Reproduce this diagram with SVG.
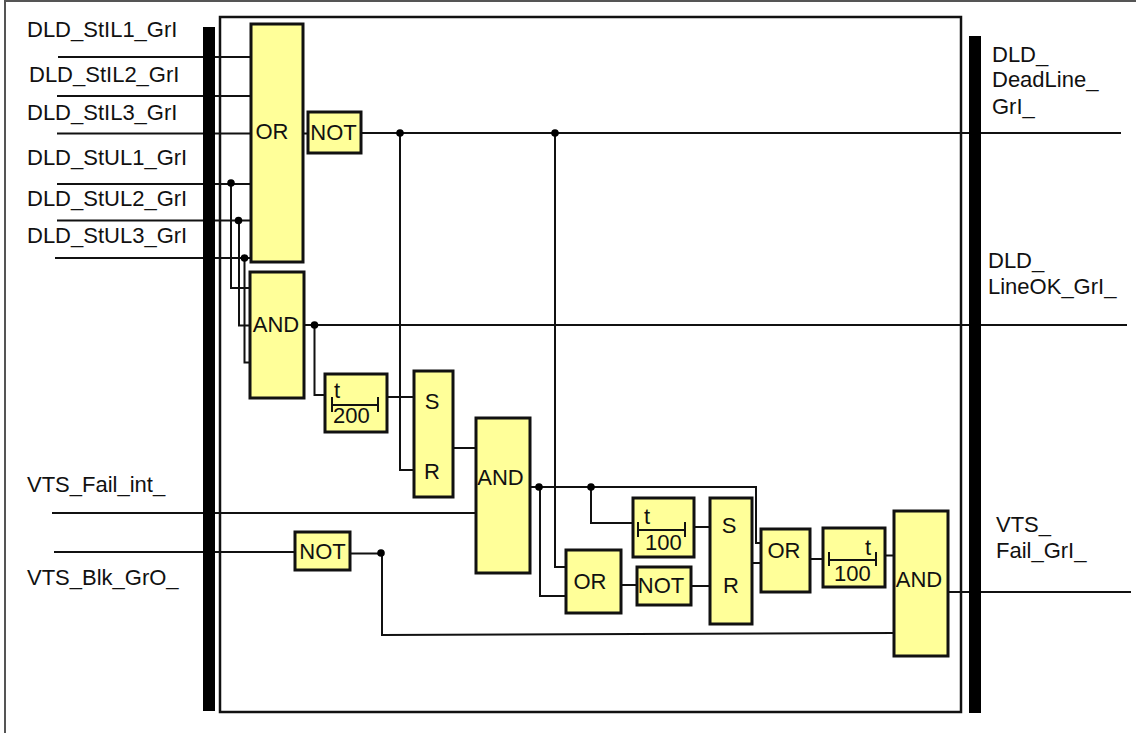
<svg xmlns="http://www.w3.org/2000/svg" width="1136" height="733" viewBox="0 0 1136 733">
<style>
text{font-family:"Liberation Sans",Arial,sans-serif;font-size:22px;fill:#111}
.b{fill:#ff9;stroke:#111;stroke-width:3}
.c{fill:none;stroke:#111;stroke-width:2}
.d{fill:#000;stroke:none}
.m{text-anchor:middle}
</style>
<rect width="1136" height="733" fill="#fff"/>
<path d="M5 733V1H1136" fill="none" stroke="#555" stroke-width="2"/>
<rect x="220" y="17" width="741" height="695" fill="none" stroke="#111" stroke-width="2.500"/>
<g id="connectors" class="c">
<path d="M58 57H251M57 96H251M57 133.500H251M57 184H251M57 220.500H251M55 258H251"/>
<path d="M231 183V288H250M239 220V325.500H250M244.500 258V362.500H250"/>
<path d="M303 133.500H308M361 133H1121M400 133V470H414M555 133V567H566"/>
<path d="M304 325H1127M314.500 325V395H325M387 397H414M453 448H476"/>
<path d="M52 513H476M54 552H295M350 553.500H382V635L894 633"/>
<path d="M530 487H756V543H761M591 487V523H633M540 487V596H566"/>
<path d="M694 527H710M621 585H637M691 586H710M752 563H761M810 559H823M885 555.500H894M948 592H1131"/>
<circle class="d" cx="231" cy="183" r="3.800"/><circle class="d" cx="238.500" cy="220.500" r="3.800"/><circle class="d" cx="244.500" cy="258" r="3.800"/>
<circle class="d" cx="400" cy="133" r="3.800"/><circle class="d" cx="555" cy="133" r="3.800"/><circle class="d" cx="314.500" cy="325" r="3.800"/>
<circle class="d" cx="539" cy="487" r="3.800"/><circle class="d" cx="591" cy="487" r="3.800"/><circle class="d" cx="381" cy="553" r="3.800"/>
</g>
<rect id="bar-left" x="203" y="27" width="12" height="684" fill="#000"/>
<rect id="bar-right" x="969" y="36" width="12" height="677" fill="#000"/>
<g id="or1"><rect class="b" x="251" y="24" width="52" height="238"/><text class="m" x="272" y="139">OR</text></g>
<g id="not1"><rect class="b" x="308" y="112" width="53" height="41"/><text class="m" x="333.500" y="140">NOT</text></g>
<g id="and1"><rect class="b" x="250" y="272" width="54" height="126"/><text class="m" x="276" y="332">AND</text></g>
<g id="timer200"><rect class="b" x="325" y="374" width="62" height="58"/><path class="c" d="M332 405H378M332 397V412M378 397V412"/><text x="334" y="398">t</text><text x="333" y="423">200</text></g>
<g id="sr1"><rect class="b" x="414" y="371" width="39" height="126"/><text class="m" x="432" y="409">S</text><text class="m" x="432" y="479">R</text></g>
<g id="and2"><rect class="b" x="476" y="418" width="54" height="155"/><text class="m" x="500.500" y="485">AND</text></g>
<g id="not3"><rect class="b" x="295" y="532" width="55" height="38"/><text class="m" x="322.500" y="559">NOT</text></g>
<g id="timer100a"><rect class="b" x="633" y="498" width="61" height="59"/><path class="c" d="M638 530H685M638 522V537M685 522V537"/><text x="644" y="524">t</text><text x="645" y="550">100</text></g>
<g id="or2"><rect class="b" x="566" y="550" width="55" height="63"/><text class="m" x="590" y="589">OR</text></g>
<g id="not2"><rect class="b" x="637" y="567" width="54" height="38"/><text class="m" x="661" y="593">NOT</text></g>
<g id="sr2"><rect class="b" x="710" y="498" width="42" height="126"/><text class="m" x="729" y="533">S</text><text class="m" x="731" y="593">R</text></g>
<g id="or3"><rect class="b" x="761" y="529" width="49" height="63"/><text class="m" x="784" y="558">OR</text></g>
<g id="timer100b"><rect class="b" x="823" y="528" width="62" height="59"/><path class="c" d="M829 560H876M829 552V566M876 552V566"/><text x="865" y="555">t</text><text x="834" y="581">100</text></g>
<g id="and3"><rect class="b" x="894" y="511" width="54" height="145"/><text class="m" x="919" y="587">AND</text></g>
<g id="labels">
<text x="27" y="37">DLD_StIL1_GrI</text>
<text x="29" y="82">DLD_StIL2_GrI</text>
<text x="27" y="120">DLD_StIL3_GrI</text>
<text x="27" y="165">DLD_StUL1_GrI</text>
<text x="27" y="206">DLD_StUL2_GrI</text>
<text x="27" y="243">DLD_StUL3_GrI</text>
<text x="27" y="492">VTS_Fail_int_</text>
<text x="27" y="585">VTS_Blk_GrO_</text>
<text x="992" y="62">DLD_</text><text x="992" y="87">DeadLine_</text><text x="992" y="114">GrI_</text>
<text x="988" y="268">DLD_</text><text x="988" y="294">LineOK_GrI_</text>
<text x="996" y="532">VTS_</text><text x="996" y="558">Fail_GrI_</text>
</g>
</svg>
